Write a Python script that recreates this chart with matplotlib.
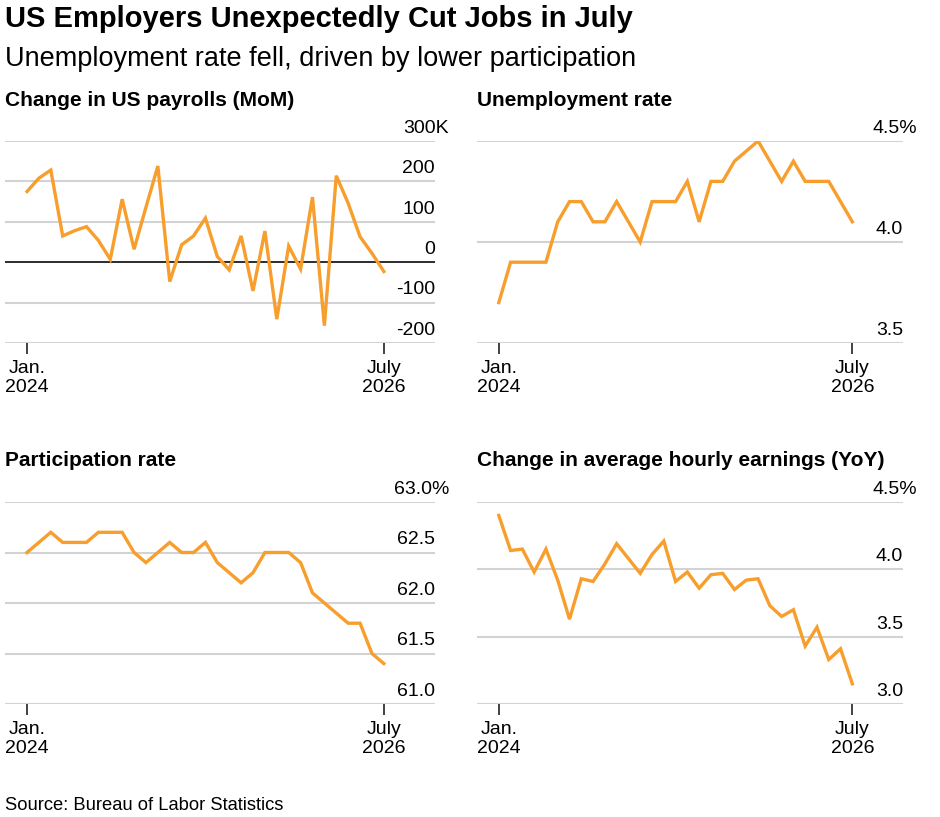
import matplotlib
matplotlib.use("Agg")
import matplotlib.pyplot as plt
import numpy as np

plt.rcParams['font.family'] = ['Liberation Sans', 'DejaVu Sans']

months = np.arange(31)  # Jan 2024 .. Jul 2026
payrolls = [175, 208, 228, 65, 78, 88, 54, 7, 156, 32, 136, 238, -48, 43, 65, 109, 14, -19,
            65, -71, 77, -141, 40, -17, 161, -157, 214, 146, 63, 22, -23]
unemp = [3.7, 3.9, 3.9, 3.9, 3.9, 4.1, 4.2, 4.2, 4.1, 4.1, 4.2, 4.1, 4.0, 4.2, 4.2, 4.2, 4.3, 4.1,
         4.3, 4.3, 4.4, 4.45, 4.5, 4.4, 4.3, 4.4, 4.3, 4.3, 4.3, 4.2, 4.1]
partic = [62.5, 62.6, 62.7, 62.6, 62.6, 62.6, 62.7, 62.7, 62.7, 62.5, 62.4, 62.5, 62.6, 62.5, 62.5,
          62.6, 62.4, 62.3, 62.2, 62.3, 62.5, 62.5, 62.5, 62.4, 62.1, 62.0, 61.9, 61.8, 61.8, 61.5, 61.4]
earnings = [4.40, 4.14, 4.15, 3.98, 4.15, 3.92, 3.63, 3.93, 3.91, 4.04, 4.19, 4.08, 3.97, 4.11, 4.21,
            3.91, 3.98, 3.86, 3.96, 3.97, 3.85, 3.92, 3.93, 3.73, 3.65, 3.70, 3.43, 3.57, 3.33, 3.41, 3.15]

panels = [
    ("Change in US payrolls (MoM)", payrolls, [300, 200, 100, 0, -100, -200], ["300K", "200", "100", "0", "-100", "-200"], 0),
    ("Unemployment rate", unemp, [4.5, 4.0, 3.5], ["4.5%", "4.0", "3.5"], None),
    ("Participation rate", partic, [63.0, 62.5, 62.0, 61.5, 61.0], ["63.0%", "62.5", "62.0", "61.5", "61.0"], None),
    ("Change in average hourly earnings (YoY)", earnings, [4.5, 4.0, 3.5, 3.0], ["4.5%", "4.0", "3.5", "3.0"], None),
]

W, H = 940, 817
fig = plt.figure(figsize=(W / 100, H / 100), dpi=100)
fig.text(5 / W, 1 - 19 / H, "US Employers Unexpectedly Cut Jobs in July", fontsize=21,
         fontweight='bold', va='center', ha='left')
fig.text(5 / W, 1 - 59 / H, "Unemployment rate fell, driven by lower participation", fontsize=19.5,
         va='center', ha='left')
fig.text(5 / W, 1 - 805 / H, "Source: Bureau of Labor Statistics", fontsize=13.2, va='center', ha='left')

boxes = [(5, 141, 435, 343), (477, 141, 903, 343), (5, 502, 435, 704), (477, 502, 903, 704)]
orange = '#F79E2C'
for (title, vals, ticks, labels, zero), (x0, y0, x1, y1) in zip(panels, boxes):
    ax = fig.add_axes([x0 / W, 1 - y1 / H, (x1 - x0) / W, (y1 - y0) / H])
    ax.set_ylim(min(ticks), max(ticks))
    ax.set_xlim(-1.85, 34.3)
    for t, l in zip(ticks, labels):
        ax.axhline(t, color='#d3d3d3', lw=1.5, zorder=1)
        ax.annotate(l, xy=(1, t), xycoords=('axes fraction', 'data'),
                    xytext=(0 if '%' not in l and 'K' not in l else 10, 3),
                    textcoords='offset points', ha='right', va='bottom', fontsize=14)
    if zero is not None:
        ax.axhline(zero, color='black', lw=1.1, zorder=2)
    ax.plot(months, vals, color=orange, lw=2.4, zorder=3, solid_joinstyle='miter')
    for s in ax.spines.values():
        s.set_visible(False)
    ax.set_yticks([])
    ax.set_xticks([0, 30])
    ax.set_xticklabels(["Jan.\n2024", "July\n2026"], fontsize=14, linespacing=1.2)
    ax.tick_params(axis='x', length=8, width=1.2, color='#222222', pad=4)
    fig.text(x0 / W, 1 - (y0 - 41) / H, title, fontsize=15, fontweight='bold', va='center', ha='left')

fig.savefig("out.png", dpi=100)
